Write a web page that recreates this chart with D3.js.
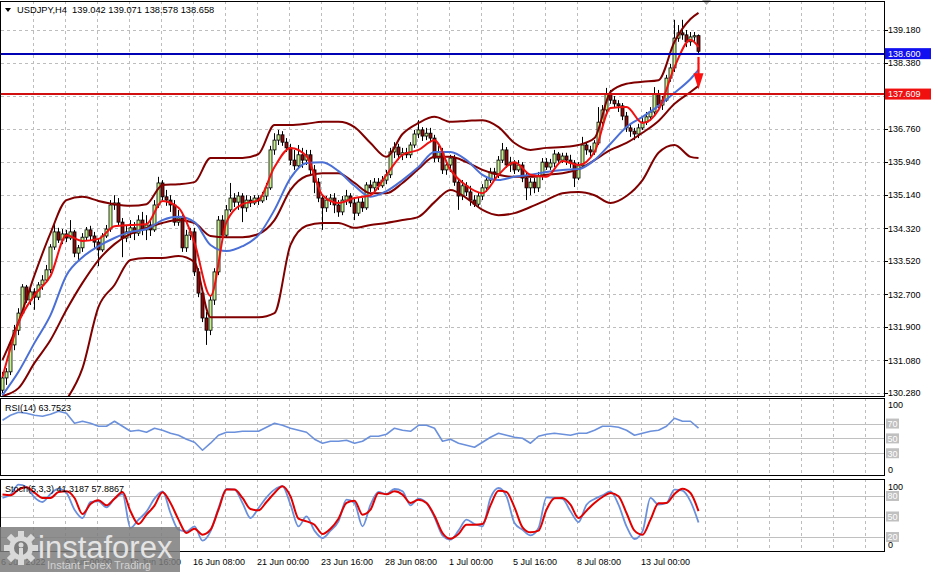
<!DOCTYPE html>
<html><head><meta charset="utf-8">
<script src="https://cdn.jsdelivr.net/npm/d3@7"></script>
<style>
html,body{margin:0;padding:0;background:#fff;}
svg{display:block;font-family:"Liberation Sans",Arial,sans-serif;}
</style></head><body>
<svg id="c" width="931" height="572"></svg>
<script>
// ---------- DATA ----------
const symbol = "USDJPY,H4";
const lastBar = ["139.042","139.071","138.578","138.658"];
const opens = [130.35,130.65,130.80,131.46,131.82,132.24,132.88,132.56,132.76,132.63,132.93,133.05,133.30,133.86,134.23,134.03,134.18,134.08,134.23,133.71,133.84,134.10,134.28,134.13,133.98,133.79,134.13,134.30,134.89,134.94,134.47,134.08,134.23,134.33,134.20,134.52,134.28,134.40,134.28,134.89,135.43,135.09,135.01,134.89,134.47,134.57,133.84,134.15,134.23,133.25,132.73,132.12,131.82,132.56,133.25,134.52,134.15,134.77,135.06,134.96,135.11,134.82,135.01,134.94,135.06,134.99,135.11,135.31,136.24,136.48,136.61,136.43,136.29,135.99,135.85,136.12,135.99,136.12,135.75,135.45,135.06,134.82,135.01,135.06,134.89,134.72,135.01,135.11,134.94,134.69,134.96,134.82,135.38,135.31,135.45,135.36,135.50,135.63,136.19,136.31,136.12,136.17,136.12,136.36,136.63,136.73,136.58,136.65,136.53,136.04,136.19,135.75,135.87,136.04,135.45,135.11,135.36,135.21,135.01,134.91,135.11,135.31,135.50,135.70,135.65,135.99,136.24,135.87,135.94,135.75,135.87,135.55,135.31,135.45,135.31,135.60,135.94,135.82,135.92,136.14,135.99,136.09,135.99,135.92,135.55,135.85,136.36,136.24,136.19,136.41,136.92,137.22,137.61,137.46,137.37,137.32,137.07,136.78,136.70,136.63,136.78,136.92,137.05,137.17,137.61,137.34,137.46,138.00,138.25,138.98,139.11,139.06,138.89,139.01,139.042];
const highs = [130.80,130.89,131.58,131.95,132.36,132.95,132.93,132.85,132.85,133.00,133.17,133.42,133.93,134.45,134.33,134.30,134.28,134.52,134.28,133.91,134.20,134.35,134.38,134.23,134.08,134.20,134.40,135.01,135.13,135.06,134.57,134.40,134.52,134.47,134.64,134.72,134.64,134.52,135.01,135.58,135.50,135.26,135.13,135.01,134.77,134.64,134.28,134.33,134.33,133.34,132.85,132.27,132.66,133.34,134.62,134.64,134.89,135.43,135.18,135.21,135.18,135.13,135.11,135.13,135.13,135.21,135.43,136.34,136.65,136.73,136.70,136.53,136.39,136.24,136.36,136.29,136.24,136.24,135.87,135.55,135.13,135.11,135.16,135.18,135.01,135.11,135.26,135.18,135.06,135.06,135.06,135.45,135.50,135.55,135.55,135.60,135.75,136.29,136.43,136.39,136.29,136.29,136.43,136.73,136.97,136.80,136.78,136.78,136.61,136.34,136.29,135.99,136.12,136.12,135.55,135.50,135.45,135.36,135.13,135.21,135.40,135.60,135.80,135.80,136.09,136.41,136.31,136.07,135.99,135.99,135.94,135.70,135.55,135.55,135.70,136.04,136.04,136.02,136.24,136.19,136.17,136.17,136.12,135.99,135.94,136.56,136.41,136.34,136.48,137.29,137.34,137.76,137.71,137.56,137.46,137.39,137.17,136.88,136.78,136.88,137.02,137.17,137.29,137.78,137.71,137.56,138.08,138.35,139.43,139.30,139.43,139.18,139.13,139.13,139.071];
const lows = [130.28,130.48,130.72,131.33,131.70,132.17,132.49,132.44,132.32,132.56,132.81,132.98,133.22,133.79,133.96,133.93,133.98,134.03,133.61,133.54,133.74,134.03,134.03,133.84,133.39,133.74,134.08,134.23,134.77,134.40,133.61,133.98,134.08,134.03,134.13,134.15,134.03,134.13,134.23,134.82,135.01,134.87,134.72,134.38,134.38,133.74,133.74,134.03,133.15,132.63,132.02,131.46,131.70,132.44,133.17,134.08,134.10,134.72,134.84,134.77,134.47,134.72,134.84,134.89,134.89,134.94,135.01,135.26,136.12,136.36,136.34,136.19,135.87,135.75,135.80,135.80,135.87,135.63,135.18,134.96,134.28,134.72,134.89,134.69,134.60,134.64,134.89,134.84,134.52,134.62,134.72,134.77,135.21,135.23,135.26,135.31,135.40,135.55,136.04,135.99,135.99,136.04,136.04,136.29,136.53,136.46,136.48,136.43,135.94,135.94,135.65,135.63,135.70,135.36,134.77,135.01,135.11,134.87,134.84,134.84,135.01,135.21,135.43,135.50,135.55,135.92,135.80,135.70,135.65,135.70,135.45,135.01,135.13,135.18,135.21,135.50,135.75,135.75,135.82,135.87,135.92,135.87,135.80,135.33,135.50,135.80,136.12,136.07,136.12,136.36,136.85,137.17,137.37,137.27,137.17,136.97,136.68,136.56,136.48,136.53,136.73,136.85,136.97,137.10,137.27,137.22,137.42,137.91,138.15,138.89,138.94,138.76,138.79,138.86,138.578];
const closes = [130.65,130.80,131.46,131.82,132.24,132.88,132.56,132.76,132.63,132.93,133.05,133.30,133.86,134.23,134.03,134.18,134.08,134.23,133.71,133.84,134.10,134.28,134.13,133.98,133.79,134.13,134.30,134.89,134.94,134.47,134.08,134.23,134.33,134.20,134.52,134.28,134.40,134.28,134.89,135.43,135.09,135.01,134.89,134.47,134.57,133.84,134.15,134.23,133.25,132.73,132.12,131.82,132.56,133.25,134.52,134.15,134.77,135.06,134.96,135.11,134.82,135.01,134.94,135.06,134.99,135.11,135.31,136.24,136.48,136.61,136.43,136.29,135.99,135.85,136.12,135.99,136.12,135.75,135.45,135.06,134.82,135.01,135.06,134.89,134.72,135.01,135.11,134.94,134.69,134.96,134.82,135.38,135.31,135.45,135.36,135.50,135.63,136.19,136.31,136.12,136.17,136.12,136.36,136.63,136.73,136.58,136.65,136.53,136.04,136.19,135.75,135.87,136.04,135.45,135.11,135.36,135.21,135.01,134.91,135.11,135.31,135.50,135.70,135.65,135.99,136.24,135.87,135.94,135.75,135.87,135.55,135.31,135.45,135.31,135.60,135.94,135.82,135.92,136.14,135.99,136.09,135.99,135.92,135.55,135.85,136.36,136.24,136.19,136.41,136.92,137.22,137.61,137.46,137.37,137.32,137.07,136.78,136.70,136.63,136.78,136.92,137.05,137.17,137.61,137.34,137.46,138.00,138.25,138.98,139.11,139.06,138.89,139.01,139.04,138.658];

// indicator lines, read at every 4th bar (last point = last bar)
const lineBars = d3.range(0, 173, 4).concat([174]);
const bbUpper = [131.09,132.02,133.17,134.20,135.01,135.09,134.99,134.91,134.87,134.91,135.38,135.40,135.45,136.04,136.04,136.04,136.14,136.85,136.85,136.88,136.93,136.93,136.80,136.41,136.07,136.63,136.90,137.05,136.93,136.95,136.97,136.80,136.41,136.24,136.29,136.31,136.36,136.53,137.66,137.86,137.91,137.95,138.89,139.45,139.60];
const bbMiddle = [130.21,130.40,131.02,131.58,132.32,132.98,133.54,133.93,134.18,134.33,134.45,134.52,134.45,134.13,134.10,134.10,134.18,134.52,135.26,135.60,135.67,135.67,135.43,135.18,135.18,135.43,135.77,136.07,136.07,135.94,135.75,135.63,135.58,135.58,135.63,135.67,135.77,135.99,136.24,136.41,136.66,136.95,137.37,137.66,137.81];
const bbLower = [null,null,null,null,130.12,130.89,132.39,132.93,133.54,133.59,133.59,133.64,133.49,132.14,132.14,132.14,132.14,132.24,133.91,134.38,134.45,134.45,134.33,134.40,134.45,134.52,134.60,134.96,135.26,135.06,134.77,134.64,134.69,134.84,135.01,135.18,135.21,135.13,134.94,135.11,135.50,136.17,136.36,136.07,136.04];
const maFast = [130.67,132.00,132.68,133.15,134.15,134.01,134.06,134.37,134.40,134.42,134.99,134.82,133.96,132.66,134.47,134.91,135.01,135.82,136.29,136.09,135.13,134.94,135.06,135.13,135.63,136.12,136.24,136.48,135.75,135.36,135.18,135.63,135.94,135.63,135.58,135.97,135.87,136.19,137.27,137.29,136.90,137.22,138.27,138.94,138.76];
const maSlow = [130.23,130.80,131.51,132.19,133.17,133.61,133.88,134.08,134.23,134.30,134.52,134.60,134.47,133.91,133.76,133.88,134.15,134.77,135.55,135.92,135.94,135.72,135.36,135.09,135.23,135.50,135.82,136.19,136.19,135.99,135.63,135.50,135.58,135.63,135.70,135.75,135.77,135.99,136.39,136.80,137.05,137.32,137.64,137.98,138.20];

// oscillators, read at every 2nd bar
const oscBars = d3.range(0, 175, 2);
const rsi = [74.4,81.2,85.2,83.9,81.2,79.8,82.5,86.6,83.9,70.4,73.1,70.4,66.4,66.4,73.1,66.4,59.6,61.0,58.3,63.7,61.0,56.9,54.2,48.9,44.8,34.0,43.5,54.2,58.3,58.3,59.6,59.6,59.6,65.0,70.4,67.7,63.7,61.0,58.3,48.9,43.5,46.2,46.2,47.5,43.5,46.2,52.9,52.9,55.6,63.7,61.0,59.6,67.7,67.7,63.7,46.2,48.9,43.5,40.8,38.1,44.8,51.5,56.9,54.2,51.5,50.2,43.5,52.9,55.6,56.9,55.6,54.2,56.9,56.9,61.0,66.4,66.4,65.0,61.0,54.2,56.9,59.6,61.0,66.4,77.1,73.1,73.1,63.75];
const stochMain = [77.1,82.0,96.6,93.2,78.0,71.2,82.9,90.7,84.4,60.0,47.8,71.2,72.2,63.4,76.1,82.9,33.2,45.4,57.1,76.1,86.8,55.1,30.7,28.3,35.6,14.6,28.3,62.4,90.2,89.3,69.8,47.8,62.4,78.0,89.3,94.2,67.3,35.6,50.2,29.3,18.5,29.3,42.9,74.6,69.8,35.6,67.3,85.8,82.9,90.2,86.8,66.3,76.1,69.8,48.8,22.4,16.1,29.3,45.4,39.0,35.6,77.1,91.7,79.5,40.5,30.7,22.4,33.2,78.0,77.1,75.6,57.6,41.9,67.3,75.6,81.0,86.8,67.3,35.6,17.1,28.3,77.1,67.3,69.8,89.3,87.8,72.2,41.32];
const stochSignal = [82.0,81.0,89.3,92.7,84.9,77.1,77.1,85.8,86.8,77.1,53.7,68.3,73.6,66.3,76.1,85.8,57.6,39.0,52.7,65.8,85.4,69.8,45.4,25.9,32.2,23.4,30.7,60.0,89.3,89.3,77.1,61.0,59.0,71.2,84.4,94.2,79.5,46.8,42.9,38.0,24.4,32.2,46.8,69.8,73.2,52.7,60.0,84.4,82.4,86.8,82.0,69.8,74.6,69.8,51.2,25.9,17.6,24.4,38.0,38.0,39.0,66.3,87.8,85.8,63.4,34.2,26.8,29.3,60.0,76.6,77.1,67.3,47.8,58.5,69.8,78.5,84.4,79.5,55.1,29.3,23.4,45.4,69.3,69.8,82.9,90.7,84.4,57.89];

// grid ticks (137.560 has its label hidden by the 137.609 price box)
const priceTicks = [139.180,138.380,137.560,136.760,135.940,135.140,134.320,133.520,132.700,131.900,131.080,130.280];
const priceTickLabels = [139.180,138.380,136.760,135.940,135.140,134.320,133.520,132.700,131.900,131.080,130.280];
const hLevels = [{v:138.600, label:"138.600", line:"#0000b4", box:"#1010f0"},
                 {v:137.609, label:"137.609", line:"#d01010", box:"#f01010"}];
const rsiLevels = [70,50,30];
const stochLevels = [80,50,20];
const dateBars = [0,16,32,48,64,80,96,112,128,144,160];
const dateLabels = ["6 Jun 2022","9 Jun 00:00","13 Jun 16:00","16 Jun 08:00","21 Jun 00:00","23 Jun 16:00","28 Jun 08:00","1 Jul 00:00","5 Jul 16:00","8 Jul 08:00","13 Jul 00:00"];

// ---------- LAYOUT ----------
const svg = d3.select("#c");
const R = 884;
const P = {main:[1,397], rsi:[398,476], st:[479,552]};
const x = d3.scaleLinear().domain([0,1]).range([2,6]);
const yP = d3.scaleLinear().domain([130.183,139.866]).range([397,2]);
const yR = d3.scaleLinear().domain([0,100]).range([475.5,401.3]);
const yS = d3.scaleLinear().domain([0,100]).range([550.7,482.3]);
const fs = 9;

svg.append("rect").attr("width",931).attr("height",572).attr("fill","#fff");
const defs = svg.append("defs");
defs.append("clipPath").attr("id","cm").append("rect").attr("x",1).attr("y",2).attr("width",R-1).attr("height",394);
defs.append("clipPath").attr("id","cr").append("rect").attr("x",1).attr("y",P.rsi[0]+1).attr("width",R-1).attr("height",P.rsi[1]-P.rsi[0]-1);
defs.append("clipPath").attr("id","cs").append("rect").attr("x",1).attr("y",P.st[0]+1).attr("width",R-1).attr("height",P.st[1]-P.st[0]-1);

// vertical grid
const gridK = d3.range(1,28);
Object.values(P).forEach(([t,b]) => {
  svg.append("g").selectAll("line").data(gridK).join("line")
    .attr("x1", k => Math.round(x(8*k))-0.5).attr("x2", k => Math.round(x(8*k))-0.5)
    .attr("y1", t).attr("y2", b)
    .attr("stroke","#bdbdbd").attr("stroke-dasharray","3,3").attr("stroke-width",1);
});
// horizontal price grid
svg.append("g").selectAll("line").data(priceTicks).join("line")
  .attr("x1",1).attr("x2",R).attr("y1",d=>Math.round(yP(d))+0.5).attr("y2",d=>Math.round(yP(d))+0.5)
  .attr("stroke","#bdbdbd").attr("stroke-dasharray","3,3");
// oscillator levels
svg.append("g").selectAll("line").data(rsiLevels).join("line")
  .attr("x1",1).attr("x2",R).attr("y1",d=>Math.round(yR(d))+0.5).attr("y2",d=>Math.round(yR(d))+0.5)
  .attr("stroke","#c0c0c0");
svg.append("g").selectAll("line").data(stochLevels).join("line")
  .attr("x1",1).attr("x2",R).attr("y1",d=>Math.round(yS(d))+0.5).attr("y2",d=>Math.round(yS(d))+0.5)
  .attr("stroke","#c0c0c0");

// ---------- MAIN CHART ----------
const gm = svg.append("g").attr("clip-path","url(#cm)");
const bars = opens.map((o,i)=>({i,o,h:highs[i],l:lows[i],c:closes[i]}));
gm.append("g").selectAll("line").data(bars).join("line")
  .attr("x1",d=>x(d.i)+0.5).attr("x2",d=>x(d.i)+0.5)
  .attr("y1",d=>yP(d.h)).attr("y2",d=>yP(d.l))
  .attr("stroke","#000").attr("stroke-width",1);
gm.append("g").selectAll("rect").data(bars).join("rect")
  .attr("x",d=>x(d.i)-1).attr("width",3)
  .attr("y",d=>yP(Math.max(d.o,d.c)))
  .attr("height",d=>Math.max(1,Math.abs(yP(d.o)-yP(d.c))))
  .attr("fill",d=>d.c>=d.o?"#c6f28e":"#8b0a0a")
  .attr("stroke","#000").attr("stroke-width",0.8);

function mkLine(ys){
  return d3.line().defined(d=>d[1]!=null).x(d=>x(d[0])+0.5).y(d=>ys(d[1])).curve(d3.curveMonotoneX);
}
const lp = mkLine(yP);
const series = [
  {v:bbUpper, c:"#800000", w:2},
  {v:bbMiddle, c:"#800000", w:2},
  {v:bbLower, c:"#800000", w:2},
  {v:maSlow, c:"#4a6fd6", w:2},
  {v:maFast, c:"#f01010", w:2}
];
series.forEach(s=>{
  gm.append("path").attr("d", lp(lineBars.map((b,k)=>[b,s.v[k]])))
    .attr("fill","none").attr("stroke",s.c).attr("stroke-width",s.w).attr("stroke-linejoin","round");
});

// horizontal levels
hLevels.forEach(h=>{
  const yy = Math.round(yP(h.v));
  svg.append("line").attr("x1",0).attr("x2",R).attr("y1",yy).attr("y2",yy)
    .attr("stroke",h.line).attr("stroke-width",2);
});

// arrow
const ax = x(174)+0.5;
svg.append("line").attr("x1",ax).attr("x2",ax).attr("y1",yP(138.52)).attr("y2",yP(138.05))
  .attr("stroke","#ff1010").attr("stroke-width",2.2);
svg.append("path").attr("d",`M${ax-5},${yP(138.12)} L${ax+5},${yP(138.12)} L${ax},${yP(137.72)} Z`).attr("fill","#ff1010");

// top shift marker
svg.append("path").attr("d","M702,0 L711,0 L706.5,5 Z").attr("fill","#a8a8a8");

// panel borders
Object.values(P).forEach(([t,b])=>{
  svg.append("rect").attr("x",0.5).attr("y",t+0.5).attr("width",R).attr("height",b-t-1)
    .attr("fill","none").attr("stroke","#000").attr("stroke-width",1);
});

// right price axis
const ax2 = svg.append("g");
ax2.selectAll("line").data(priceTicks).join("line")
  .attr("x1",R).attr("x2",R+4).attr("y1",d=>Math.round(yP(d))+0.5).attr("y2",d=>Math.round(yP(d))+0.5).attr("stroke","#000");
ax2.selectAll("text").data(priceTickLabels).join("text")
  .attr("x",888).attr("y",d=>yP(d)+3.3).attr("font-size",fs).attr("fill","#000")
  .text(d=>d3.format(".3f")(d));
hLevels.forEach(h=>{
  const yy = yP(h.v);
  svg.append("rect").attr("x",885).attr("y",yy-5.5).attr("width",46).attr("height",11).attr("fill",h.box);
  svg.append("text").attr("x",888).attr("y",yy+3.3).attr("font-size",fs).attr("fill","#fff").text(h.label);
});

// header
svg.append("path").attr("d","M5,8 L11,8 L8,12 Z").attr("fill","#000");
svg.append("text").attr("x",17).attr("y",13).attr("font-size",9.3).attr("fill","#000")
  .attr("xml:space","preserve").style("white-space","pre")
  .text(symbol + "  " + lastBar.join(" "));

// ---------- RSI ----------
const gr = svg.append("g").attr("clip-path","url(#cr)");
gr.append("path").attr("d", d3.line().x(d=>x(d[0])+0.5).y(d=>yR(d[1]))(oscBars.map((b,k)=>[b,rsi[k]])))
  .attr("fill","none").attr("stroke","#6b90dc").attr("stroke-width",1.6).attr("stroke-linejoin","round");
svg.append("text").attr("x",5).attr("y",411).attr("font-size",fs).attr("fill","#000").text("RSI(14) 63.7523");
svg.append("text").attr("x",888).attr("y",408).attr("font-size",fs).text("100");
svg.append("text").attr("x",888).attr("y",473).attr("font-size",fs).text("0");
rsiLevels.forEach(v=>{
  svg.append("rect").attr("x",886).attr("y",yR(v)-5).attr("width",13).attr("height",10).attr("fill","#c0c0c0");
  svg.append("text").attr("x",887.5).attr("y",yR(v)+3.3).attr("font-size",fs).attr("fill","#fff").text(v);
});

// ---------- STOCH ----------
const gs = svg.append("g").attr("clip-path","url(#cs)");
const ls = mkLine(yS);
gs.append("path").attr("d", ls(oscBars.map((b,k)=>[b,stochMain[k]])))
  .attr("fill","none").attr("stroke","#6b90dc").attr("stroke-width",1.8);
gs.append("path").attr("d", ls(oscBars.map((b,k)=>[b,stochSignal[k]])))
  .attr("fill","none").attr("stroke","#e00000").attr("stroke-width",2);
svg.append("text").attr("x",5).attr("y",492).attr("font-size",fs).attr("fill","#000").text("Stoch(5,3,3) 41.3187 57.8867");
svg.append("text").attr("x",888).attr("y",490).attr("font-size",fs).text("100");
stochLevels.forEach(v=>{
  svg.append("rect").attr("x",886).attr("y",yS(v)-5).attr("width",13).attr("height",10).attr("fill","#c0c0c0");
  svg.append("text").attr("x",887.5).attr("y",yS(v)+3.3).attr("font-size",fs).attr("fill","#fff").text(v);
});
svg.append("text").attr("x",888).attr("y",548).attr("font-size",fs).text("0");

// date axis
svg.append("g").selectAll("text").data(dateBars).join("text")
  .attr("x",d=>x(d)-1).attr("y",565).attr("font-size",fs).attr("fill","#000")
  .text((d,k)=>dateLabels[k]);

// ---------- WATERMARK ----------
const wm = svg.append("g");
wm.append("rect").attr("x",0).attr("y",527).attr("width",180).attr("height",45).attr("fill","#7c7c7c").attr("opacity",0.85);
const gcx=21, gcy=548;
const teeth = d3.range(8).map(k=>k*Math.PI/4);
teeth.forEach(a=>{
  wm.append("rect").attr("x",gcx-3).attr("y",gcy-17).attr("width",6).attr("height",8)
    .attr("fill","#d9d9d9").attr("transform",`rotate(${a*180/Math.PI},${gcx},${gcy})`);
});
wm.append("circle").attr("cx",gcx).attr("cy",gcy).attr("r",12).attr("fill","#d9d9d9");
wm.append("circle").attr("cx",gcx).attr("cy",gcy).attr("r",7).attr("fill","#7c7c7c");
wm.append("circle").attr("cx",gcx).attr("cy",gcy-3).attr("r",2.5).attr("fill","#d9d9d9");
wm.append("rect").attr("x",gcx-2).attr("y",gcy).attr("width",4).attr("height",7).attr("fill","#d9d9d9");
wm.append("text").attr("x",38).attr("y",558).attr("font-size",31).attr("fill","#e4e4e4").text("instaforex");
wm.append("text").attr("x",47).attr("y",569).attr("font-size",11).attr("fill","#d2d2d2").text("Instant Forex Trading");
</script>
</body></html>
